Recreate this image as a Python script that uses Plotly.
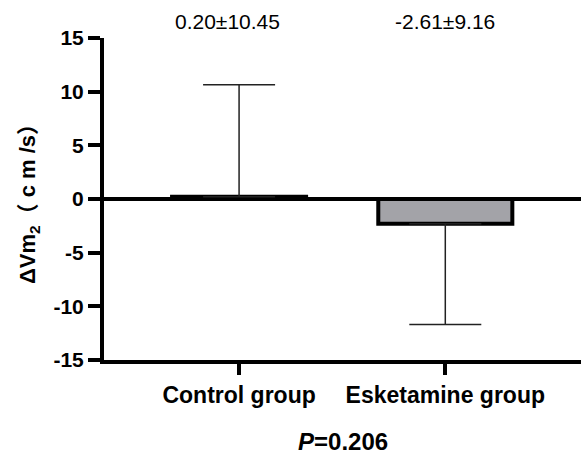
import plotly.graph_objects as go

# Data
categories = ["Control group", "Esketamine group"]
means = [0.2, -2.3]
err_plus = [10.45, 0.0]
err_minus = [0.0, 9.4]
labels = ["0.20±10.45", "-2.61±9.16"]
label_shift = [-12, 0]
fill_colors = ["#ffffff", "#a3a3a8"]
y_ticks = [-15, -10, -5, 0, 5, 10, 15]
y_tick_text = ["-15", "-10", "-5", "0", "5", "10", "15"]
p_text = "<b><i>P</i>=0.206</b>"

FONT = "Liberation Sans, Arial, Noto Sans CJK SC, sans-serif"

fig = go.Figure()
fig.add_trace(go.Bar(
    x=[0, 1],
    y=means,
    width=0.65,
    marker=dict(color=fill_colors, line=dict(color="black", width=4)),
    error_y=dict(type="data", symmetric=False, array=err_plus, arrayminus=err_minus,
                 color="#222222", thickness=1.5, width=36),
    showlegend=False,
    hoverinfo="skip",
))

for i, (t, s) in enumerate(zip(labels, label_shift)):
    fig.add_annotation(x=i, xref="x", y=1, yref="paper", yshift=3, xshift=s,
                       text=t, showarrow=False, yanchor="bottom",
                       font=dict(family=FONT, size=21, color="black"))

fig.add_annotation(x=0, xref="paper", xshift=-75, y=0.5, yref="paper",
                   text="<b>ΔVm<sub>2</sub>（ c m /s）</b>", textangle=-90,
                   showarrow=False, xanchor="center", yanchor="middle",
                   font=dict(family=FONT, size=22, color="black"))

fig.add_annotation(x=0.5, xref="paper", y=0, yref="paper", yshift=-81,
                   text=p_text, showarrow=False, xanchor="center", yanchor="middle",
                   font=dict(family=FONT, size=24, color="black"))

fig.update_layout(
    width=581, height=454,
    margin=dict(l=104, r=0, t=38, b=94),
    plot_bgcolor="white", paper_bgcolor="white",
    font=dict(family=FONT, color="black"),
)
fig.update_xaxes(
    range=[-0.655, 1.658], tickvals=[0, 1], automargin=False,
    ticktext=["<b>%s</b>" % c for c in categories],
    showline=True, linecolor="black", linewidth=4,
    ticks="outside", ticklen=11, tickwidth=4, tickcolor="black",
    tickfont=dict(family=FONT, size=23, color="black"),
    showgrid=False, zeroline=False,
)
fig.update_yaxes(
    range=[-15, 15], tickvals=y_ticks, automargin=False,
    ticktext=["<b>%s</b>" % t for t in y_tick_text],
    showline=True, linecolor="black", linewidth=4,
    ticks="outside", ticklen=12, tickwidth=4, tickcolor="black",
    tickfont=dict(family=FONT, size=21, color="black"),
    showgrid=False, zeroline=True, zerolinecolor="black", zerolinewidth=4,
)

fig.write_html("out.html", config={"displayModeBar": False},
               post_script="document.body.style.margin='0';document.body.style.padding='0';")
